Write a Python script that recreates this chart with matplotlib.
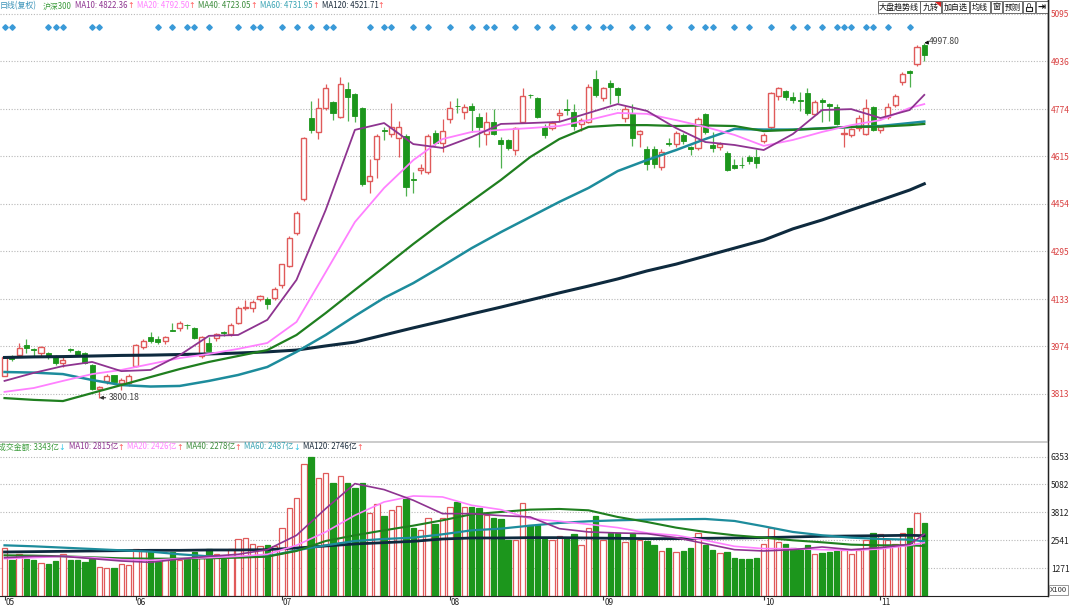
import matplotlib
matplotlib.use("Agg")
import matplotlib.pyplot as plt
import numpy as np
from matplotlib.patches import Rectangle, Polygon
from matplotlib.lines import Line2D
from matplotlib.transforms import blended_transform_factory

plt.rcParams['font.family'] = ['Noto Sans CJK SC', 'DejaVu Sans']

# daily candles, CSI 300
opens = [3874, 3938, 3945, 3978, 3965, 3951, 3952, 3940, 3917, 3964, 3959, 3952, 3912, 3830, 3855, 3876, 3850, 3851,
         3907, 3973, 4005, 4000, 3992, 4027, 4036, 4047, 4036, 3940, 3986, 4001, 4021, 4015, 4053, 4102, 4102, 4132, 4132, 4136,
         4181, 4245, 4357, 4470, 4745, 4698, 4777, 4799, 4749, 4841, 4825, 4777, 4530, 4605, 4702, 4690, 4676, 4683, 4538, 4570, 4563, 4694, 4659,
         4740, 4786, 4765, 4785, 4746, 4690, 4732, 4670, 4670, 4636, 4732, 4823, 4811, 4713, 4712, 4754, 4774, 4765, 4724, 4732, 4874,
         4811, 4863, 4844, 4743, 4762, 4690, 4638, 4638, 4578, 4660, 4656, 4687, 4645, 4642, 4758, 4653, 4645, 4627, 4586, 4587, 4611, 4611,
         4668, 4713, 4818, 4835, 4816, 4804, 4830, 4758, 4805, 4790, 4780, 4691, 4687, 4709, 4690, 4780,
         4705, 4746, 4788, 4867, 4903, 4926, 4992]
highs = [3942, 3944, 3985, 4000, 3968, 3975, 3955, 3944, 3936, 3968, 3962, 3955, 3914, 3840, 3880, 3878, 3866, 3880,
         3982, 3998, 4023, 4008, 4010, 4053, 4058, 4049, 4040, 4008, 4005, 4020, 4024, 4053, 4110, 4130, 4130, 4148, 4140, 4173,
         4253, 4345, 4430, 4680, 4802, 4811, 4860, 4803, 4881, 4865, 4830, 4780, 4605, 4690, 4715, 4794, 4735, 4690, 4563, 4590, 4690, 4702, 4740,
         4800, 4811, 4790, 4795, 4760, 4765, 4773, 4680, 4672, 4715, 4844, 4826, 4815, 4725, 4735, 4775, 4807, 4790, 4745, 4860, 4906,
         4848, 4872, 4850, 4785, 4790, 4705, 4648, 4650, 4640, 4675, 4700, 4693, 4650, 4747, 4762, 4698, 4662, 4632, 4605, 4613, 4618, 4640,
         4693, 4832, 4850, 4838, 4832, 4833, 4845, 4805, 4810, 4795, 4790, 4709, 4712, 4755, 4807, 4785,
         4720, 4795, 4825, 4900, 4905, 4992, 4997.80]
lows = [3872, 3925, 3938, 3950, 3940, 3940, 3932, 3912, 3905, 3956, 3942, 3915, 3825, 3800.18, 3848, 3850, 3826, 3840,
        3905, 3965, 3985, 3980, 3982, 4024, 4025, 4032, 4000, 3935, 3958, 3990, 4010, 4010, 4048, 4095, 4090, 4128, 4098, 4130,
        4172, 4240, 4350, 4465, 4695, 4672, 4770, 4737, 4745, 4735, 4730, 4515, 4490, 4541, 4670, 4680, 4614, 4480, 4490, 4556, 4555, 4653, 4630,
        4727, 4760, 4740, 4698, 4645, 4653, 4688, 4574, 4635, 4620, 4728, 4812, 4744, 4675, 4705, 4735, 4755, 4705, 4700, 4728, 4815,
        4800, 4790, 4795, 4730, 4650, 4647, 4570, 4575, 4570, 4650, 4645, 4655, 4620, 4635, 4690, 4630, 4635, 4565, 4572, 4575, 4590, 4575,
        4660, 4707, 4805, 4805, 4795, 4769, 4755, 4755, 4732, 4735, 4720, 4647, 4680, 4700, 4688, 4700,
        4695, 4740, 4780, 4855, 4850, 4920, 4935]
closes = [3939, 3930, 3968, 3968, 3962, 3972, 3936, 3917, 3928, 3962, 3946, 3918, 3830, 3836, 3875, 3853, 3861, 3872,
          3978, 3990, 3990, 3988, 4004, 4026, 4052, 4045, 4003, 4006, 3959, 4015, 4019, 4046, 4102, 4105, 4124, 4143, 4115, 4167,
          4251, 4338, 4425, 4676, 4705, 4779, 4844, 4760, 4858, 4814, 4751, 4521, 4549, 4683, 4699, 4715, 4715, 4510, 4536, 4574, 4683, 4661, 4700,
          4777, 4784, 4780, 4771, 4713, 4730, 4690, 4656, 4642, 4709, 4818, 4821, 4746, 4688, 4728, 4762, 4772, 4716, 4737, 4848, 4822,
          4844, 4850, 4822, 4773, 4676, 4700, 4589, 4590, 4630, 4658, 4693, 4665, 4638, 4740, 4698, 4642, 4656, 4569, 4577, 4585, 4598, 4593,
          4687, 4827, 4844, 4814, 4805, 4802, 4762, 4799, 4799, 4785, 4724, 4694, 4706, 4743, 4777, 4704,
          4715, 4782, 4818, 4893, 4895, 4985, 4958]
# turnover, 亿
volumes = [2187, 1656, 1899, 1701, 1625, 1504, 1473, 1595, 1929, 1656, 1625, 1534, 1701, 1321, 1291, 1291, 1443, 1397,
           2142, 2081, 2081, 1534, 1625, 1990, 1625, 1701, 2005, 1777, 2157, 1929, 1701, 2157, 2597, 2658, 2385, 2294, 2309, 2263,
           3114, 4025, 4481, 6000, 6353, 5377, 5620, 5165, 5484, 5165, 4922, 5165, 3782, 4208, 3630, 3934, 4116, 4405, 3099, 2992, 3554, 3266, 3570,
           4056, 4284, 4056, 4056, 4025, 3676, 3570, 3524, 2537, 2567, 4238, 3220, 3220, 2613, 2567, 2749, 2658, 2840, 2309, 3114, 3630,
           2567, 2871, 2871, 2461, 2871, 2537, 2506, 2339, 2051, 2187, 1990, 2035, 2203, 2871, 2309, 2111, 1960, 2005, 1732, 1671, 1671, 1732,
           2354, 3114, 2461, 2354, 2203, 2111, 2309, 1899, 1960, 2005, 2051, 2111, 1929, 2111, 2567, 2871,
           2840, 2567, 2385, 2871, 3114, 3782, 3343]

# moving averages sampled every 4th trading day
ma_idx = list(range(0, 125, 4)) + [126]
ma10 = [3857, 3884, 3907, 3921, 3890, 3894, 3944, 4009, 4012, 4063, 4198, 4434, 4704, 4727, 4656, 4643, 4680,
        4724, 4727, 4731, 4761, 4791, 4768, 4710, 4663, 4653, 4636, 4690, 4771, 4774, 4744, 4771, 4822]
ma20 = [3820, 3833, 3857, 3880, 3894, 3914, 3934, 3948, 3965, 3985, 4056, 4224, 4393, 4508, 4602, 4673, 4697,
        4704, 4710, 4717, 4737, 4761, 4758, 4737, 4714, 4687, 4650, 4670, 4697, 4720, 4737, 4778, 4791]
ma40 = [3799, 3793, 3789, 3816, 3843, 3870, 3897, 3921, 3941, 3961, 4012, 4086, 4164, 4241, 4319, 4393, 4464,
        4535, 4612, 4673, 4714, 4720, 4720, 4717, 4719, 4717, 4700, 4704, 4709, 4714, 4715, 4720, 4724]
ma60 = [3887, 3885, 3880, 3860, 3843, 3838, 3840, 3857, 3877, 3904, 3955, 4012, 4076, 4137, 4187, 4245, 4305,
        4359, 4410, 4461, 4508, 4565, 4602, 4636, 4673, 4707, 4705, 4705, 4709, 4714, 4717, 4727, 4732]
ma120 = [3936, 3938, 3939, 3941, 3943, 3944, 3946, 3948, 3951, 3955, 3961, 3975, 3988, 4012, 4036, 4059, 4083,
         4106, 4130, 4154, 4177, 4201, 4228, 4251, 4278, 4305, 4332, 4370, 4400, 4434, 4467, 4501, 4522]
vma10 = [1747, 1808, 1808, 1701, 1595, 1534, 1686, 1808, 1899, 2111, 2765, 3980, 5119, 4846, 4360, 3752, 3752,
         3661, 3600, 3068, 2917, 2871, 2840, 2658, 2385, 2111, 2051, 2111, 2233, 2111, 2203, 2354, 2815]
vma20 = [1701, 1747, 1808, 1747, 1656, 1625, 1701, 1747, 1808, 1899, 2309, 2917, 3676, 4284, 4557, 4511, 4132,
         3934, 3524, 3403, 3266, 3114, 2871, 2765, 2537, 2263, 2157, 2157, 2111, 2081, 2142, 2309, 2426]
vma40 = [1853, 1838, 1808, 1762, 1716, 1701, 1701, 1716, 1747, 1792, 2051, 2506, 2765, 2992, 3205, 3448, 3722,
         3828, 3934, 3965, 3904, 3600, 3372, 3114, 2917, 2765, 2658, 2537, 2446, 2339, 2309, 2309, 2278]
vma60 = [2309, 2263, 2203, 2142, 2081, 2020, 1899, 1808, 1777, 1808, 2081, 2309, 2506, 2597, 2658, 2810, 2992,
         3068, 3205, 3327, 3403, 3448, 3478, 3494, 3509, 3418, 3175, 2917, 2765, 2658, 2597, 2567, 2487]
vma120 = [2005, 2020, 2035, 2051, 2066, 2081, 2081, 2096, 2096, 2111, 2187, 2278, 2370, 2430, 2491, 2597, 2643,
          2643, 2658, 2658, 2643, 2628, 2613, 2613, 2628, 2643, 2658, 2689, 2719, 2734, 2749, 2765, 2746]

months = ["05", "06", "07", "08", "09", "10", "11"]
month_start = [0, 18, 38, 61, 82, 104, 120]
price_ticks = [5095, 4936, 4774, 4615, 4454, 4295, 4133, 3974, 3813]
vol_ticks = [6353, 5082, 3812, 2541, 1271]
signal_days = [0, 1, 6, 7, 8, 12, 13, 21, 23, 25, 26, 28, 32, 34, 35, 38, 40, 42, 44, 45, 50, 52, 53,
               56, 58, 61, 64, 66, 67, 70, 73, 75, 78, 80, 82, 83, 86, 88, 91, 94, 96, 97, 100, 102, 105,
               108, 110, 112, 114, 115, 116, 118, 119, 121, 124]

RED = "#e05a5a"
GREEN = "#1c961c"
C10, C20, C40, C60, C120 = "#8e3490", "#ff80ff", "#1f7f1f", "#1d8c9c", "#0e2a3e"

W, H = 1080, 606
def fx(px):
    return px / W
def fy(py):
    return 1 - py / H

fig = plt.figure(figsize=(W / 100, H / 100), dpi=100)
ax = fig.add_axes([0, fy(440), fx(1048), 440 / H])
axv = fig.add_axes([0, fy(596), fx(1048), 153 / H])

n = len(closes)
x = np.arange(n)
xlim = (-0.62, 142.95)
bw = 0.7

# candles
for i in range(n):
    o, h, l, c = opens[i], highs[i], lows[i], closes[i]
    if c >= o:
        top, bot = c, o
        ax.vlines(i, top, h, color=RED, lw=0.9, zorder=2)
        ax.vlines(i, l, bot, color=RED, lw=0.9, zorder=2)
        ax.add_patch(Rectangle((i - bw / 2, bot), bw, max(top - bot, 1.5), fc="white", ec=RED, lw=1.0, zorder=3))
    else:
        ax.vlines(i, l, h, color="#4fb04f", lw=0.9, zorder=2)
        ax.add_patch(Rectangle((i - bw / 2, c), bw, max(o - c, 1.5), fc=GREEN, ec=GREEN, lw=0.6, zorder=3))

ax.plot(ma_idx, ma120, color=C120, lw=2.2, zorder=4)
ax.plot(ma_idx, ma60, color=C60, lw=1.8, zorder=4)
ax.plot(ma_idx, ma40, color=C40, lw=1.6, zorder=4)
ax.plot(ma_idx, ma20, color=C20, lw=1.3, zorder=4)
ax.plot(ma_idx, ma10, color=C10, lw=1.3, zorder=4)

ax.set_xlim(*xlim)
ax.set_ylim(3657.6, 5142.2)
ax.yaxis.tick_right()
ax.set_yticks(price_ticks)
ax.set_yticklabels([str(t) for t in price_ticks])
ax.tick_params(axis="y", length=0, pad=2, labelsize=6, labelcolor="#d94040")
ax.set_xticks([])
ax.grid(axis="y", linestyle=(0, (1, 1.5)), color="#b8b8b8", lw=0.8)
for s in ["top", "left", "bottom"]:
    ax.spines[s].set_visible(False)
ax.spines["right"].set_color("#222222")
ax.spines["right"].set_linewidth(1.0)

# signal diamonds
sig_tr = blended_transform_factory(ax.transData, ax.transAxes)
ax.plot(signal_days, [1 - 27 / 440] * len(signal_days), "D", ms=2.8, color="#3a9ad8",
        mec="#3a9ad8", transform=sig_tr, clip_on=False, zorder=5)

# extremes
ax.annotate("3800.18", xy=(13, min(lows)), xytext=(9, 0), textcoords="offset pixels",
            fontsize=6.2, color="#444444", va="center", ha="left",
            arrowprops=dict(arrowstyle="-|>", color="#333333", lw=0.8, shrinkA=0, shrinkB=0, mutation_scale=5))
ax.annotate("4997.80", xy=(n - 1, max(highs)), xytext=(5, 1), textcoords="offset pixels",
            fontsize=6.2, color="#444444", va="center", ha="left",
            arrowprops=dict(arrowstyle="-|>", color="#111111", lw=0.8, shrinkA=0, shrinkB=0, mutation_scale=5))

# volume
vcol = [RED if closes[i] >= opens[i] else GREEN for i in range(n)]
vface = ["white" if closes[i] >= opens[i] else GREEN for i in range(n)]
axv.bar(x, volumes, width=0.74, color=vface, edgecolor=vcol, linewidth=0.9, zorder=2)
axv.plot(ma_idx, vma120, color=C120, lw=2.0, zorder=4)
axv.plot(ma_idx, vma60, color=C60, lw=1.6, zorder=4)
axv.plot(ma_idx, vma40, color=C40, lw=1.5, zorder=4)
axv.plot(ma_idx, vma20, color=C20, lw=1.2, zorder=4)
axv.plot(ma_idx, vma10, color=C10, lw=1.2, zorder=4)
axv.set_xlim(*xlim)
axv.set_ylim(0, 6969)
axv.yaxis.tick_right()
axv.set_yticks(vol_ticks)
axv.set_yticklabels([str(t) for t in vol_ticks])
axv.tick_params(axis="y", length=0, pad=2, labelsize=6, labelcolor="#222222")
axv.set_xticks(month_start)
axv.set_xticklabels([])
axv.tick_params(axis="x", length=3, width=0.8, color="#333333", direction="out")
axv.grid(axis="y", linestyle=(0, (1, 1.5)), color="#b8b8b8", lw=0.8)
for s in ["top", "left"]:
    axv.spines[s].set_visible(False)
axv.spines["right"].set_color("#222222")
axv.spines["bottom"].set_color("#222222")

mon_tr = blended_transform_factory(axv.transData, fig.transFigure)
for m, lab in zip(month_start, months):
    axv.text(m + 0.15, fy(598), lab, transform=mon_tr, fontsize=6, color="#222222", ha="left", va="top", clip_on=False)

# panel separator and right border
fig.patches.append(Rectangle((0, fy(443)), fx(1048), 2.2 / H, transform=fig.transFigure, fc="#cccccc", ec="none"))
fig.lines.append(Line2D([fx(1048), fx(1048)], [fy(0), fy(596)], transform=fig.transFigure, color="#222222", lw=1.0))

# x100 tag
fig.text(fx(1050), fy(590), "X100", fontsize=5.5, color="#333333", va="center", ha="left",
         bbox=dict(boxstyle="square,pad=0.12", fc="white", ec="#888888", lw=0.6))

# legends: each item followed by its arrow, items chained left to right
renderer = fig.canvas.get_renderer()
def legend_row(items, ypx, size):
    cur = None
    for xp, txt, col, arrow, acol in items:
        start = xp if cur is None else max(xp, cur + 3)
        t = fig.text(fx(start), fy(ypx), txt, fontsize=size, color=col, va="center", ha="left")
        cur = t.get_window_extent(renderer).x1
        if arrow:
            a = fig.text(fx(cur - 0.5), fy(ypx), arrow, fontsize=size, color=acol, va="center", ha="left",
                         family="DejaVu Sans")
            cur = a.get_window_extent(renderer).x1

UP = "#ff5a5a"
DN = "#33c6e6"
legend_row([
    (0, "日线(复权)", "#3a92b8", "", UP),
    (43, "沪深300", "#3c9c3c", "", UP),
    (75, "MA10: %.2f" % 4822.36, C10, "↑", UP),
    (137, "MA20: %.2f" % 4792.50, C20, "↑", UP),
    (197, "MA40: %.2f" % 4723.05, "#3c8c3c", "↑", UP),
    (257, "MA60: %.2f" % 4731.95, "#3aa4b4", "↑", UP),
    (317, "MA120: %.2f" % 4521.71, "#1c2c3c", "↑", UP),
], 6, 5.7)
legend_row([
    (-2, "成交金额: %d亿" % volumes[-1], "#3c9c3c", "↓", DN),
    (69, "MA10: %d亿" % vma10[-1], C10, "↑", UP),
    (126, "MA20: %d亿" % vma20[-1], C20, "↑", UP),
    (183, "MA40: %d亿" % vma40[-1], "#3c8c3c", "↑", UP),
    (241, "MA60: %d亿" % vma60[-1], "#3aa4b4", "↓", DN),
    (298, "MA120: %d亿" % vma120[-1], "#1c2c3c", "↑", UP),
], 447, 5.7)

# toolbar buttons at top right
buttons = [("大盘趋势线", 878, 920), ("九转", 920, 941), ("加自选", 942, 969), ("均线", 970, 990),
           ("窗", 991, 1002), ("预测", 1003, 1022), ("", 1023, 1035), ("", 1036, 1048)]
for lab, x0, x1 in buttons:
    fig.patches.append(Rectangle((fx(x0), fy(12.5)), fx(x1 - x0), 11 / H, transform=fig.transFigure,
                                 fc="white", ec="#555555", lw=0.6))
    if lab:
        fig.text(fx((x0 + x1) / 2), fy(7), lab, fontsize=5.8, color="#111111", ha="center", va="center")
fig.patches.append(Polygon([[fx(935), fy(1.5)], [fx(941), fy(1.5)], [fx(941), fy(7)]], closed=True,
                           transform=fig.transFigure, fc="#e02020", ec="none"))
# lock icon
fig.patches.append(Rectangle((fx(1026), fy(11)), fx(6), 4 / H, transform=fig.transFigure, fc="none", ec="#222222", lw=0.8))
fig.text(fx(1029), fy(5.5), "∩", fontsize=6, color="#222222", ha="center", va="center", family="DejaVu Sans")
fig.text(fx(1042), fy(7), "⇥", fontsize=7, color="#111111", ha="center", va="center",
         family="DejaVu Sans", fontweight="bold")

fig.savefig("out.png", dpi=100, facecolor="white")
